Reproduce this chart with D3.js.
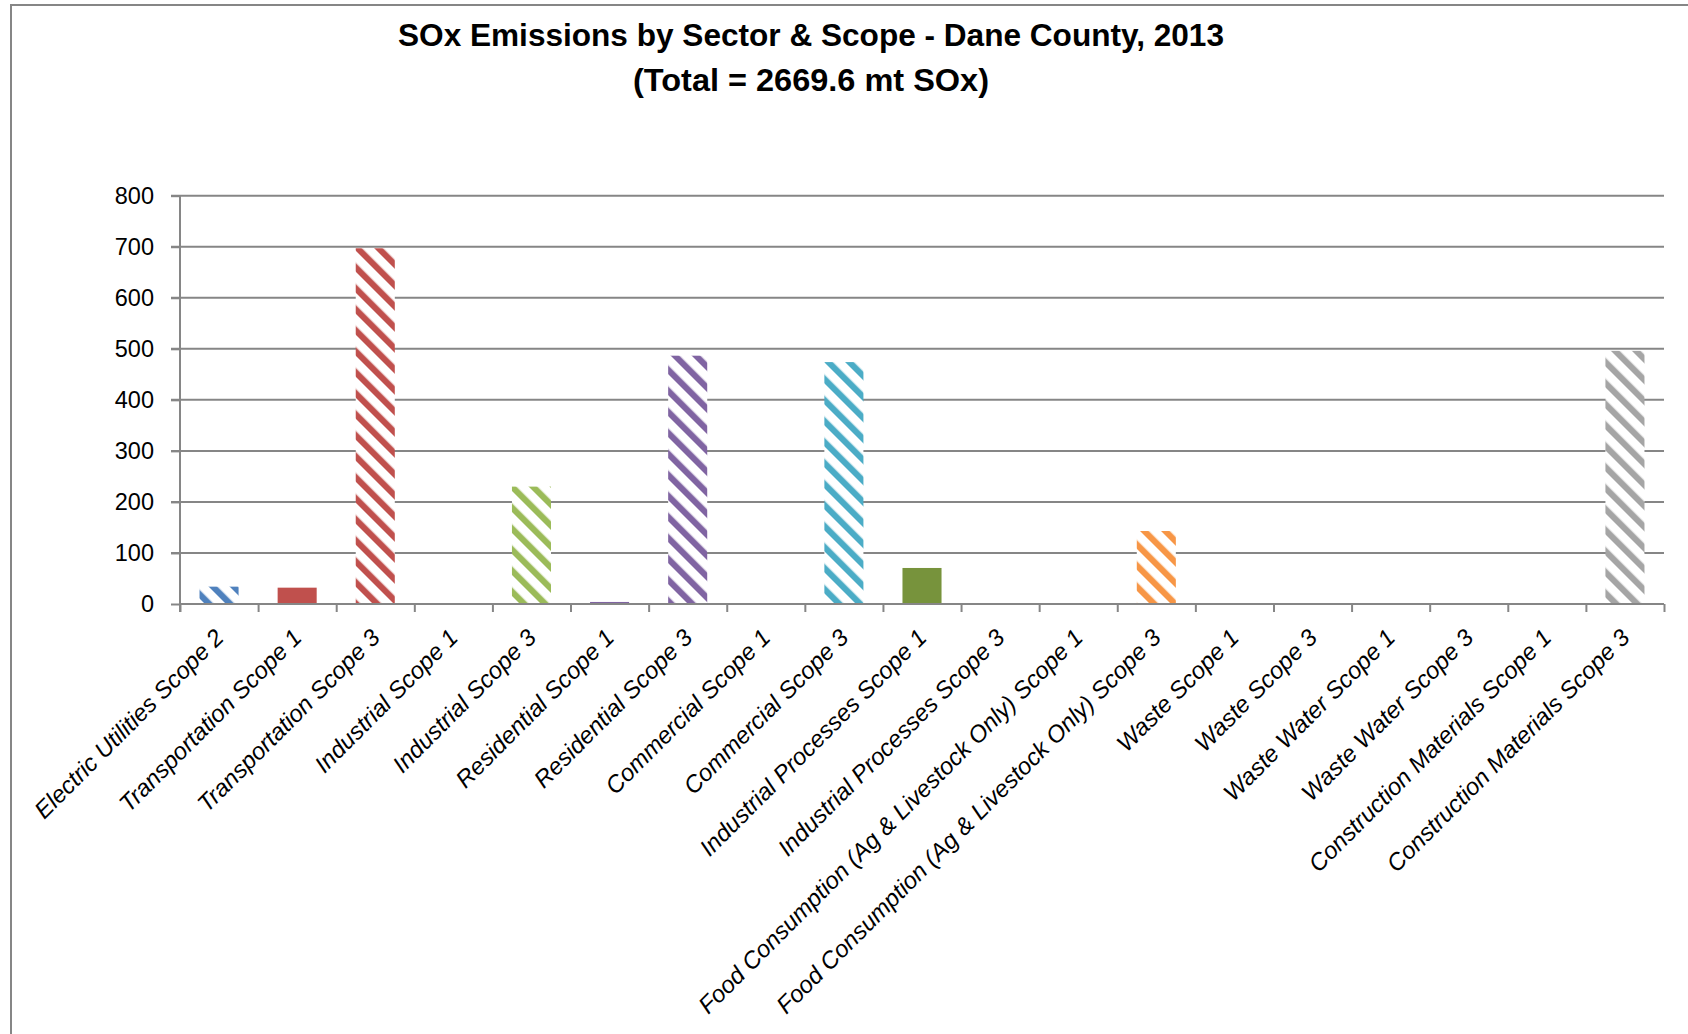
<!DOCTYPE html>
<html><head><meta charset="utf-8">
<script src="https://cdn.jsdelivr.net/npm/d3@7"></script>
<style>html,body{margin:0;padding:0;background:#fff;overflow:hidden;} svg{display:block;}</style>
</head><body>
<svg id="chart" width="1688" height="1034"></svg>
<script>
// ---- data ----
const categories = [
  "Electric Utilities Scope 2",
  "Transportation Scope 1",
  "Transportation Scope 3",
  "Industrial Scope 1",
  "Industrial Scope 3",
  "Residential Scope 1",
  "Residential Scope 3",
  "Commercial Scope 1",
  "Commercial Scope 3",
  "Industrial Processes Scope 1",
  "Industrial Processes Scope 3",
  "Food Consumption (Ag & Livestock Only) Scope 1",
  "Food Consumption (Ag & Livestock Only) Scope 3",
  "Waste Scope 1",
  "Waste Scope 3",
  "Waste Water Scope 1",
  "Waste Water Scope 3",
  "Construction Materials Scope 1",
  "Construction Materials Scope 3"
];
const values = [34, 32, 697, 1, 230, 4, 486.5, 1.5, 474, 70.6, 0, 0, 143, 0, 0, 0, 0, 0, 496];
const sectors = ["Electric Utilities","Transportation","Industrial Processes","Industrial","Residential","Commercial","Food Consumption (Ag & Livestock Only)","Waste Water","Waste","Construction Materials"];
const yTicks = [0, 100, 200, 300, 400, 500, 600, 700, 800];
const titleLines = ["SOx Emissions by Sector & Scope - Dane County, 2013", "(Total = 2669.6 mt SOx)"];

// ---- styles ----
const sectorColors = {
  "Electric Utilities": "#4F81BD",
  "Transportation": "#C0504D",
  "Industrial": "#9BBB59",
  "Residential": "#8064A2",
  "Commercial": "#4BACC6",
  "Industrial Processes": "#77933C",
  "Food Consumption (Ag & Livestock Only)": "#F79646",
  "Waste": "#2C4D75",
  "Waste Water": "#772C2A",
  "Construction Materials": "#A5A5A5"
};
const axisColor = "#868686";

function sectorOf(name) {
  let best = "";
  sectors.forEach(s => { if (name.startsWith(s + " ") && s.length > best.length) best = s; });
  return best;
}
function isHatched(name) { return !/Scope 1$/.test(name); }

const svg = d3.select("#chart");
const plot = {left: 180, right: 1664, top: 195.7, bottom: 604};

// border
svg.append("rect").attr("x", 11).attr("y", 5).attr("width", 1720).attr("height", 1060)
  .attr("fill", "#fff").attr("stroke", axisColor).attr("stroke-width", 2);

// patterns (wide downward diagonal)
const defs = svg.append("defs");
const period = 21 / Math.SQRT2;
Object.entries(sectorColors).forEach(([s, c], i) => {
  const p = defs.append("pattern").attr("id", "hatch" + i)
    .attr("patternUnits", "userSpaceOnUse")
    .attr("width", period).attr("height", period)
    .attr("patternTransform", "rotate(-45)");
  p.append("rect").attr("width", period).attr("height", period).attr("fill", "#fff");
  p.append("rect").attr("x", 0).attr("y", 0).attr("width", period * 0.42).attr("height", period).attr("fill", c);
});
const sectorIndex = s => Object.keys(sectorColors).indexOf(s);

// scales
const x = d3.scaleBand().domain(categories).range([plot.left, plot.right]).paddingInner(0.5).paddingOuter(0.25);
const y = d3.scaleLinear().domain([0, 800]).range([plot.bottom, plot.top]);

// gridlines
svg.append("g").selectAll("line").data(yTicks.filter(d => d > 0)).join("line")
  .attr("x1", plot.left - 9).attr("x2", plot.right)
  .attr("y1", d => y(d)).attr("y2", d => y(d))
  .attr("stroke", axisColor).attr("stroke-width", 2);

// y axis
const yAxis = svg.append("g").attr("transform", `translate(${plot.left},0)`)
  .call(d3.axisLeft(y).tickValues(yTicks).tickSize(9).tickPadding(17).tickFormat(d3.format("d")));
yAxis.select(".domain").remove();
yAxis.selectAll(".tick line").attr("stroke", axisColor).attr("stroke-width", 2);
yAxis.selectAll(".tick text").attr("font-family", "Liberation Sans, Arial, sans-serif")
  .attr("font-size", 23.5).attr("fill", "#000");
svg.append("line").attr("x1", plot.left).attr("x2", plot.left)
  .attr("y1", plot.top).attr("y2", plot.bottom + 8)
  .attr("stroke", axisColor).attr("stroke-width", 2);

// bars
svg.append("g").selectAll("rect").data(categories).join("rect")
  .attr("x", d => x(d))
  .attr("width", x.bandwidth())
  .attr("y", (d, i) => y(values[i]))
  .attr("height", (d, i) => y(0) - y(values[i]))
  .attr("fill", d => isHatched(d) ? `url(#hatch${sectorIndex(sectorOf(d))})` : sectorColors[sectorOf(d)]);

// x axis (category boundaries)
const xb = d3.scaleLinear().domain([0, categories.length]).range([plot.left, plot.right]);
const xAxis = svg.append("g").attr("transform", `translate(0,${plot.bottom})`)
  .call(d3.axisBottom(xb).tickValues(d3.range(categories.length + 1)).tickSize(8).tickFormat(""));
xAxis.select(".domain").attr("stroke", axisColor).attr("stroke-width", 2).attr("d", `M${plot.left},0H${plot.right}`);
xAxis.selectAll(".tick line").attr("stroke", axisColor).attr("stroke-width", 2);

// category labels
const labelFont = 22;
const labels = svg.append("g").selectAll("text").data(categories).join("text")
  .attr("transform", d => `translate(${x(d) + x.bandwidth() / 2},${plot.bottom + 29}) rotate(-45)`)
  .attr("text-anchor", "end")
  .attr("dy", "0.36em")
  .attr("font-family", "Liberation Sans, Arial, sans-serif")
  .attr("font-style", "italic")
  .attr("font-size", labelFont)
  .attr("fill", "#000")
  .text(d => d);
const ref = labels.filter(d => d === "Food Consumption (Ag & Livestock Only) Scope 1").node();
if (ref) {
  const len = ref.getComputedTextLength();
  labels.attr("font-size", labelFont * 532 / len);
}

// title
const title = svg.append("g").selectAll("text").data(titleLines).join("text")
  .attr("x", 811).attr("y", (d, i) => i === 0 ? 46 : 91)
  .attr("text-anchor", "middle")
  .attr("font-family", "Liberation Sans, Arial, sans-serif")
  .attr("font-weight", "bold")
  .attr("font-size", 32)
  .attr("fill", "#000")
  .text(d => d);
const targetW = [826, 356];
title.each(function(d, i) {
  d3.select(this).attr("textLength", targetW[i]).attr("lengthAdjust", "spacingAndGlyphs");
});
</script>
</body></html>
